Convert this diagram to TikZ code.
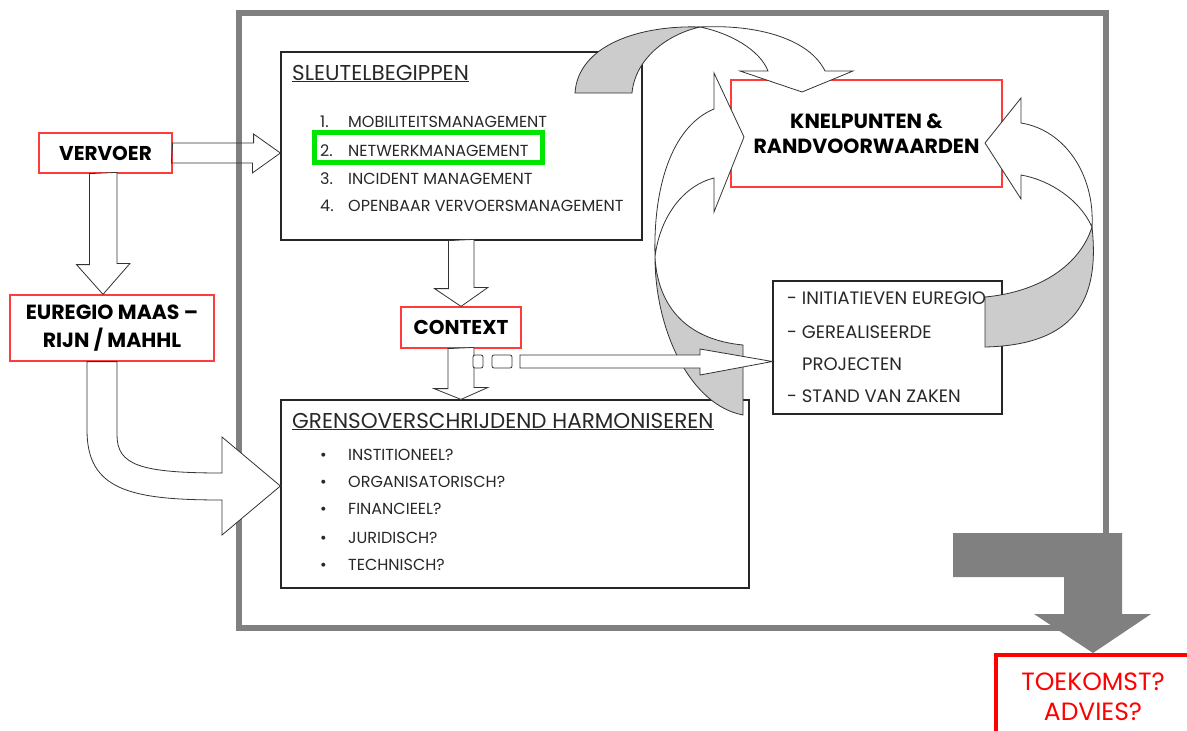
\documentclass[tikz,border=0pt]{standalone}
\usepackage{fontspec}
\setmainfont{Poppins}
\usetikzlibrary{positioning,calc}

\definecolor{rood}{RGB}{255,60,60}
\definecolor{fel}{RGB}{255,0,0}
\definecolor{groen}{RGB}{0,230,0}
\definecolor{lichtgrijs}{RGB}{204,204,204}
\definecolor{donkergrijs}{RGB}{128,128,128}
\definecolor{tekst}{RGB}{40,40,40}

\begin{document}
\begin{tikzpicture}[x=1pt, y=-1pt,
kader/.style={draw=donkergrijs, line width=6pt},
zwartebox/.style={draw=black!85, line width=1.2pt, inner sep=0pt},
rodebox/.style={draw=rood, line width=1.2pt, fill=white, inner sep=0pt, align=center, font=\fontsize{20}{28}\selectfont\bfseries},
titel/.style={inner sep=0pt, text=tekst, font=\fontsize{21.5}{24}\selectfont},
punt/.style={inner sep=0pt, text=tekst, font=\fontsize{16}{18}\selectfont},
regel/.style={inner sep=0pt, text=tekst, font=\fontsize{18}{20}\selectfont},
blokpijl/.style={draw=black!80, line width=0.8pt, fill=white},
draaivlak/.style={draw=black!80, line width=0.8pt, fill=lichtgrijs}]
\useasboundingbox (0,0) rectangle (1187,731);
\fill[white] (0,0) rectangle (1187,731);

% kader
\draw[kader] (238.5,12.5) rectangle (1106,628);

% blokken
\node[zwartebox, minimum width=361pt, minimum height=188pt] (sleutel) at (461.5,146) {};
\node[titel, anchor=base west] (sleuteltitel) at (292,80) {\underline{SLEUTELBEGIPPEN}};
\node[punt, anchor=base west] (nr1) at (320,127.5) {1.};
\node[punt, anchor=base west] (mob) at (348,127.5) {MOBILITEITSMANAGEMENT};
\node[punt, anchor=base west] (nr2) at (320,156.5) {2.};
\node[punt, anchor=base west] (netw) at (348,156.5) {NETWERKMANAGEMENT};
\node[punt, anchor=base west] (nr3) at (320,184.5) {3.};
\node[punt, anchor=base west] (incid) at (348,184.5) {INCIDENT MANAGEMENT};
\node[punt, anchor=base west] (nr4) at (320,211.5) {4.};
\node[punt, anchor=base west] (ov) at (348,211.5) {OPENBAAR VERVOERSMANAGEMENT};
\node[draw=groen, line width=5pt, minimum width=228pt, minimum height=30pt, inner sep=0pt] (markering) at (428.5,147.5) {};

\node[rodebox, minimum width=133pt, minimum height=40pt] (vervoer) at (105.5,153) {VERVOER};
\node[rodebox, minimum width=204pt, minimum height=66pt, font=\fontsize{20.5}{28}\selectfont\bfseries] (euregio) at (112,328) {EUREGIO MAAS --\\RIJN / MAHHL};
\node[rodebox, minimum width=120pt, minimum height=41pt] (context) at (461,327.5) {CONTEXT};
\node[rodebox, minimum width=271pt, minimum height=107pt, font=\fontsize{20.5}{25}\selectfont\bfseries] (knelpunten) at (866.5,133.5) {KNELPUNTEN \&\\RANDVOORWAARDEN};

\node[zwartebox, minimum width=468pt, minimum height=188pt] (grens) at (515,494) {};
\node[titel, anchor=base west] (grenstitel) at (292,428) {\underline{GRENSOVERSCHRIJDEND HARMONISEREN}};
\node[punt, anchor=base west] (b1) at (320,460.5) {\textbullet};
\node[punt, anchor=base west] (inst) at (348,460.5) {INSTITIONEEL?};
\node[punt, anchor=base west] (b2) at (320,487.5) {\textbullet};
\node[punt, anchor=base west] (org) at (348,487.5) {ORGANISATORISCH?};
\node[punt, anchor=base west] (b3) at (320,514.5) {\textbullet};
\node[punt, anchor=base west] (fin) at (348,514.5) {FINANCIEEL?};
\node[punt, anchor=base west] (b4) at (320,543.5) {\textbullet};
\node[punt, anchor=base west] (jur) at (348,543.5) {JURIDISCH?};
\node[punt, anchor=base west] (b5) at (320,570.5) {\textbullet};
\node[punt, anchor=base west] (tech) at (348,570.5) {TECHNISCH?};

\node[zwartebox, fill=white, minimum width=229pt, minimum height=133pt] (initiatieven) at (887.5,347.5) {};
\node[regel, anchor=base west] (ini) at (787,304.5) {- INITIATIEVEN EUREGIO};
\node[regel, anchor=base west] (ger) at (787,338.5) {- GEREALISEERDE};
\node[regel, anchor=base west] (proj) at (802,370.5) {PROJECTEN};
\node[regel, anchor=base west] (stand) at (787,402.5) {- STAND VAN ZAKEN};

\node[draw=fel, line width=4pt, fill=white, minimum width=194pt, minimum height=84pt, inner sep=0pt, align=center, text=fel, font=\fontsize{25}{30}\selectfont] (toekomst) at (1093,697) {TOEKOMST?\\ADVIES?};

% pijlen
\draw[blokpijl, fill=none] ([shift={(0,-10)}]vervoer.east) -- ++(81,0) -- ++(0,-9) -- (sleutel.west |- vervoer.east) -- ++(-28,20) -- ++(0,-10) -- ++(-81,0) -- cycle;
\draw[blokpijl] ([xshift=-16pt]vervoer.south) -- ++(0,91) -- ++(-13,0) -- ([xshift=-9pt]euregio.north) -- ++(27,-31) -- ++(-13,0) -- ++(0,-91) -- cycle;
\draw[blokpijl] ([xshift=-25pt]euregio.south) -- (87,430) .. controls (87,490) and (130,500) .. (222,500) -- (222,535) -- ([yshift=8pt]grens.west) -- (222,437) -- (222,473) .. controls (140,473) and (117,465) .. (117,435) -- ([xshift=5pt]euregio.south) -- cycle;
\draw[blokpijl] ([xshift=-13pt]sleutel.south) -- ++(0,48) -- ++(-14,0) -- (context.north) -- ++(27,-19) -- ++(-14,0) -- ++(0,-48) -- cycle;
\draw[blokpijl] ([xshift=-13pt]context.south) -- ++(0,40) -- ++(-14,0) -- (context.south |- grens.north) -- ++(27,-12) -- ++(-14,0) -- ++(0,-40) -- cycle;

% boog boven
\draw[draaivlak] (575,93) .. controls (578,45) and (640,25) .. (700,27) .. controls (665,35) and (635,60) .. (632,93) -- cycle;
\draw[blokpijl] (700,27) .. controls (760,24) and (810,40) .. (825,71) -- (853,71) -- (802,92) -- (740,71) -- (768,71) .. controls (760,50) and (730,33) .. (700,27) -- cycle;

% boog links
\draw[blokpijl] (655,257) .. controls (653,180) and (675,125) .. (714,109) -- (714,73) -- (744,137) -- (714,212) -- (714,178) .. controls (685,185) and (660,215) .. (655,257) -- cycle;
\draw[draaivlak] (655,257) .. controls (655,330) and (690,405) .. (743,415) -- (743,345) .. controls (690,340) and (658,310) .. (655,257) -- cycle;

% boog rechts
\draw[blokpijl] (1092,227) .. controls (1095,175) and (1065,130) .. (1021,123) -- (1021,98) -- (985,143) -- (1021,199) -- (1021,175) .. controls (1050,180) and (1080,200) .. (1092,227) -- cycle;
\draw[draaivlak] (1092,227) .. controls (1100,300) and (1075,345) .. (985,347) -- (985,297) .. controls (1040,292) and (1080,265) .. (1092,227) -- cycle;

% gestreepte pijl
\draw[blokpijl, rounded corners=2pt] (473,355) rectangle (483,368);
\draw[blokpijl, rounded corners=2pt] (492,355) rectangle (512,368);
\draw[blokpijl] (520,355) -- (700,355) -- (700,349) -- ([yshift=-14pt]initiatieven.west) -- (700,375) -- (700,368) -- (520,368) -- cycle;

% grijze pijl
\fill[donkergrijs] (953,533) -- (1122,533) -- (1122,614) -- (1151,614) -- (toekomst.north) -- (1034,614) -- (1064,614) -- (1064,577) -- (953,577) -- cycle;
\end{tikzpicture}
\end{document}
